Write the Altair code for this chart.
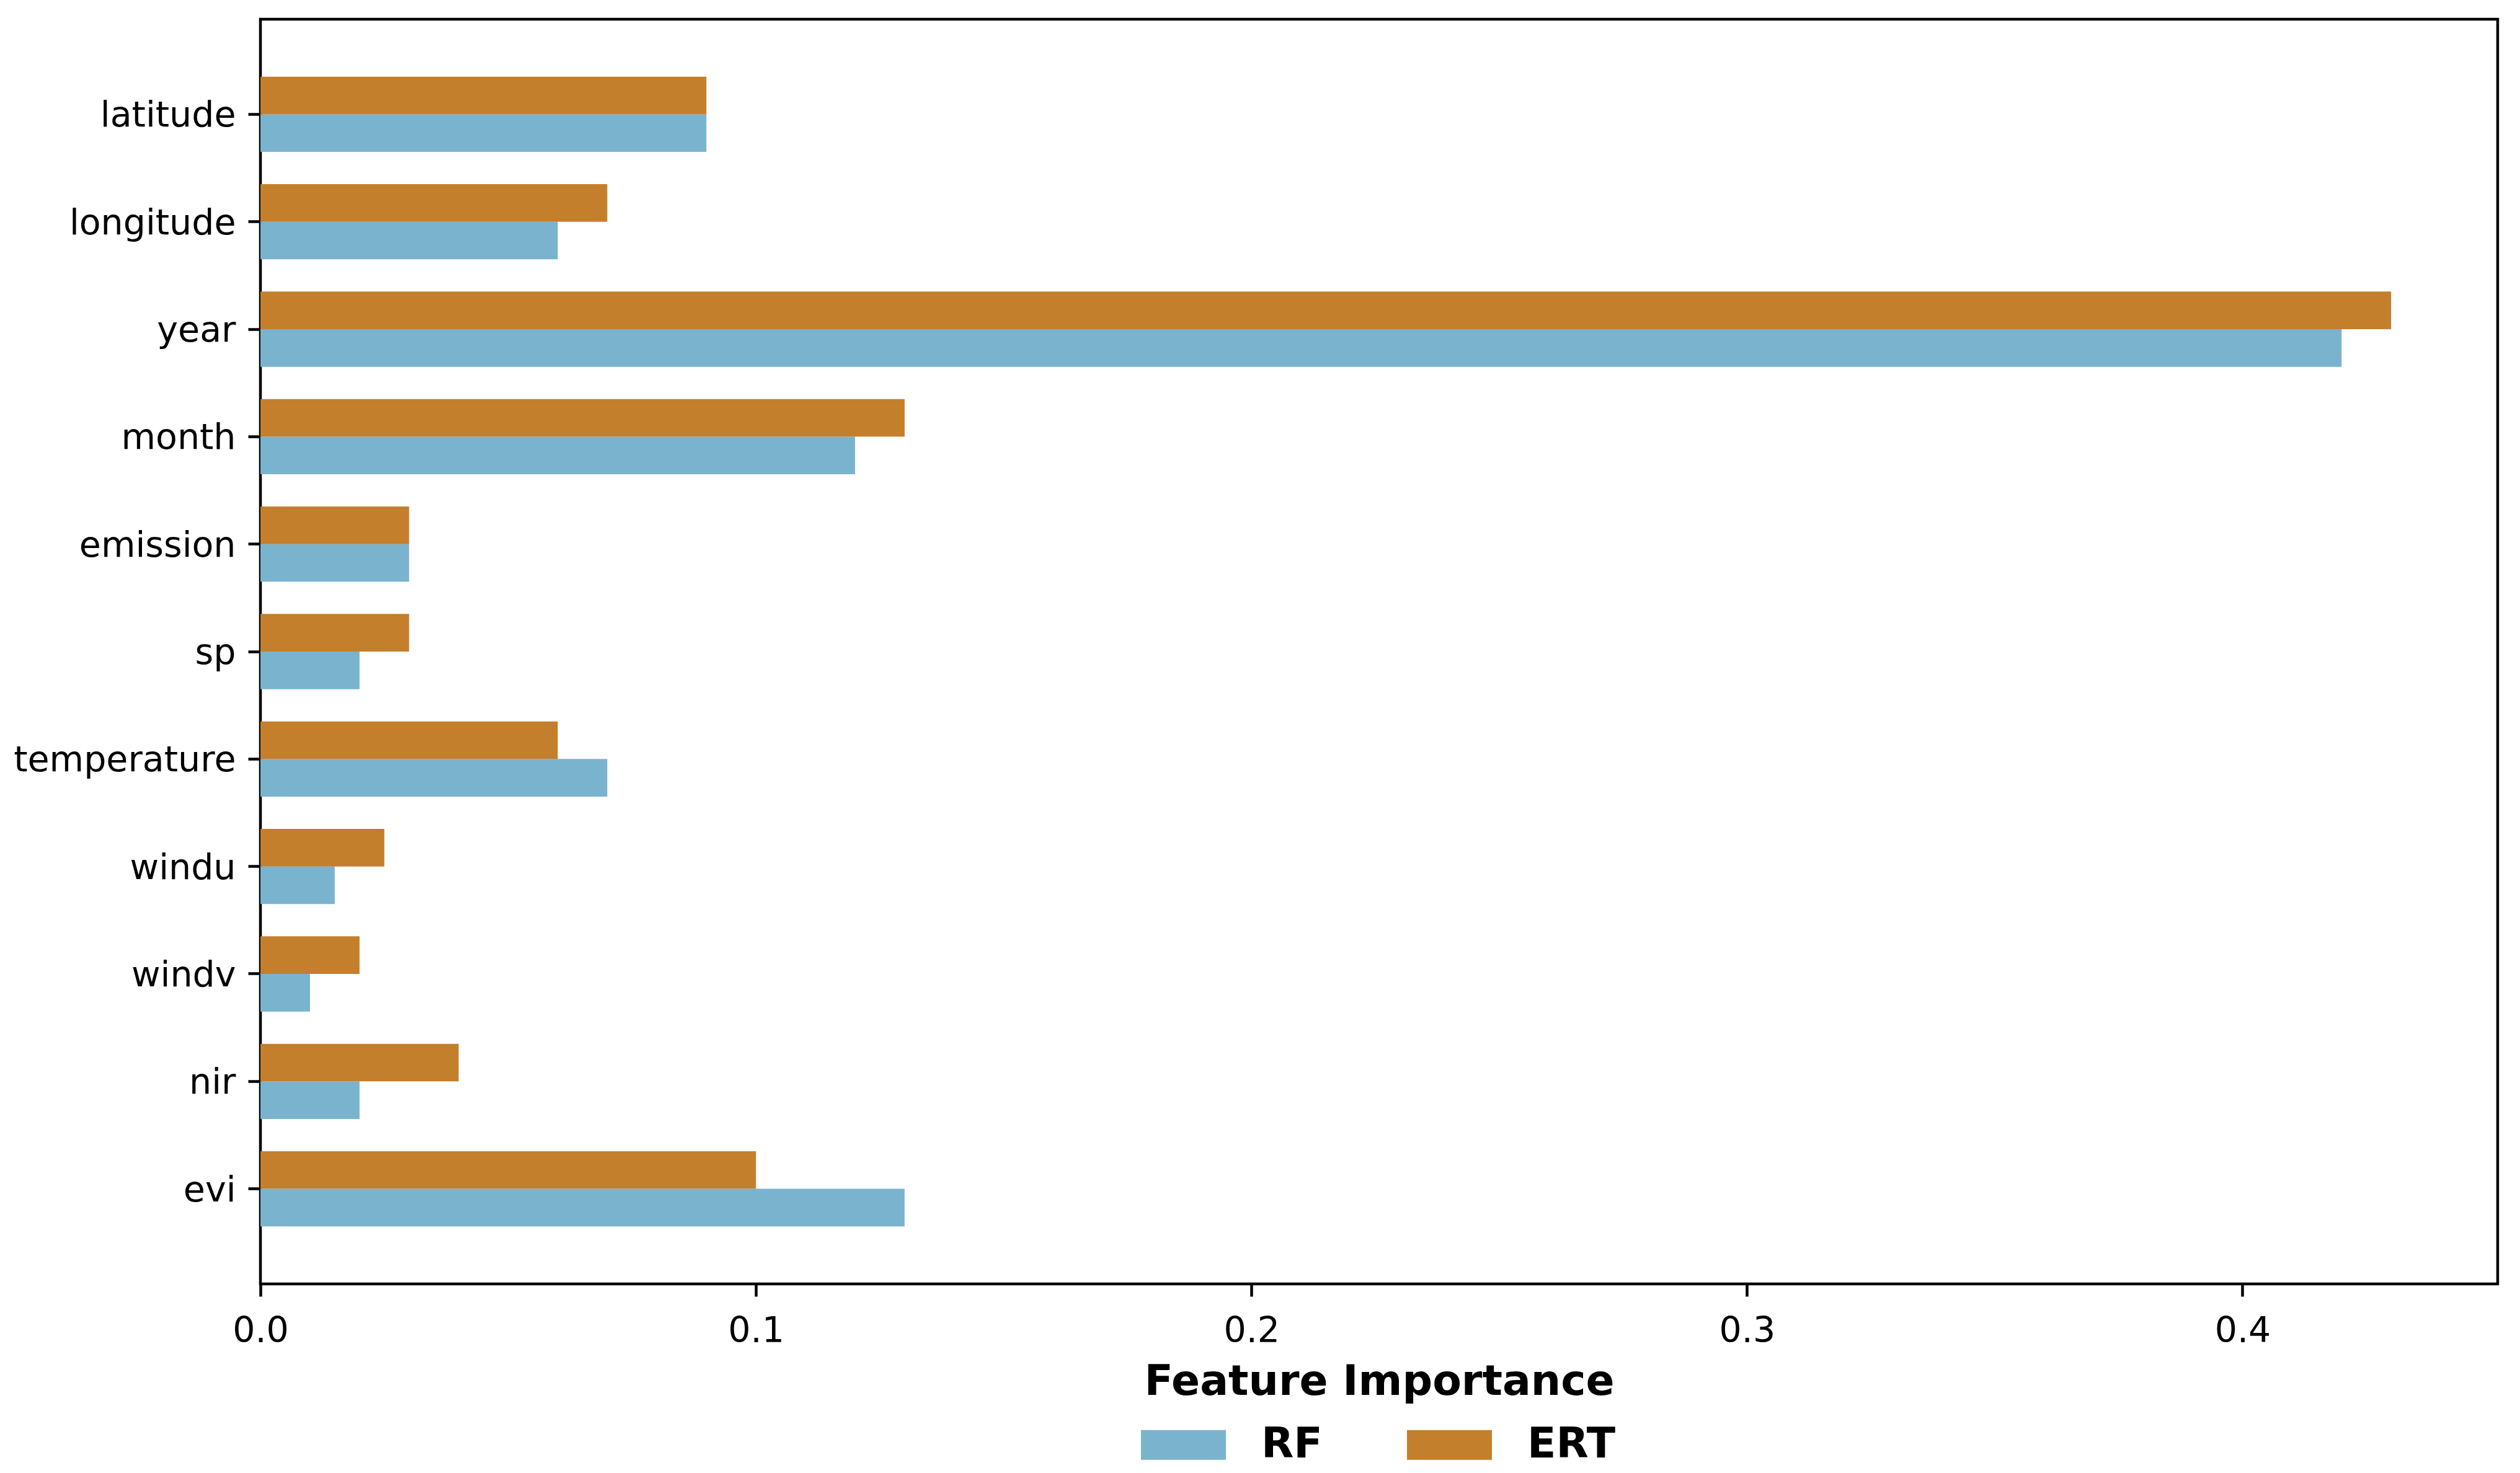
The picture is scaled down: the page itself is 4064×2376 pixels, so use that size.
import altair as alt
import pandas as pd

features = ["latitude", "longitude", "year", "month", "emission", "sp",
            "temperature", "windu", "windv", "nir", "evi"]
rf_values = [0.09, 0.06, 0.42, 0.12, 0.03, 0.02, 0.07, 0.015, 0.01, 0.02, 0.13]
ert_values = [0.09, 0.07, 0.43, 0.13, 0.03, 0.03, 0.06, 0.025, 0.02, 0.04, 0.10]
models = ["RF", "ERT"]
model_colors = ["#7AB3CE", "#C47F2C"]
x_ticks = [0.0, 0.1, 0.2, 0.3, 0.4]

rows = []
for f, a, b in zip(features, rf_values, ert_values):
    rows.append({"feature": f, "model": "RF", "importance": a})
    rows.append({"feature": f, "model": "ERT", "importance": b})
df = pd.DataFrame(rows)

FONT = "DejaVu Sans"

chart = alt.Chart(df).mark_bar().encode(
    x=alt.X(
        "importance:Q",
        scale=alt.Scale(domain=[0, 0.4515], nice=False, zero=True),
        axis=alt.Axis(
            title="Feature Importance", values=x_ticks, format=".1f",
            grid=False, domain=False, ticks=True, tickSize=20, tickWidth=4.5,
            tickColor="black", labelFont=FONT, labelFontSize=57,
            labelColor="black", labelPadding=28, labelFlush=False,
            titleFont=FONT, titleFontSize=68, titleFontWeight="bold",
            titleColor="black", titlePadding=20,
        ),
    ),
    y=alt.Y(
        "feature:N", sort=features,
        scale=alt.Scale(paddingInner=0.3, paddingOuter=0.535),
        axis=alt.Axis(
            title=None, grid=False, domain=False, ticks=True, tickSize=20,
            tickWidth=4.5, tickColor="black", labelFont=FONT,
            labelFontSize=57, labelColor="black", labelPadding=20,
            labelLimit=0, labelOffset=3,
        ),
    ),
    yOffset=alt.YOffset(
        "model:N", sort=["ERT", "RF"],
        scale=alt.Scale(domain=["ERT", "RF"], paddingInner=0, paddingOuter=0),
    ),
    color=alt.Color(
        "model:N",
        scale=alt.Scale(domain=models, range=model_colors),
        legend=alt.Legend(
            title=None, orient="none", direction="horizontal",
            legendX=1420, legendY=2231, padding=0,
            symbolType="M-1,-0.35L1,-0.35L1,0.35L-1,0.35Z",
            symbolSize=18769, symbolStrokeWidth=0, symbolOpacity=1,
            labelFont=FONT, labelFontSize=68, labelFontWeight="bold",
            labelColor="black", labelOffset=57, columnPadding=136,
            labelLimit=0,
        ),
    ),
).properties(
    width=3608, height=2040,
    autosize=alt.AutoSizeParams(type="none"),
    padding={"left": 412, "top": 23, "right": 28, "bottom": 297},
).configure(
    background="white",
    view=alt.ViewConfig(stroke="black", strokeWidth=4.5),
)

chart.save("out.html", embed_options={"renderer": "svg", "actions": False})
